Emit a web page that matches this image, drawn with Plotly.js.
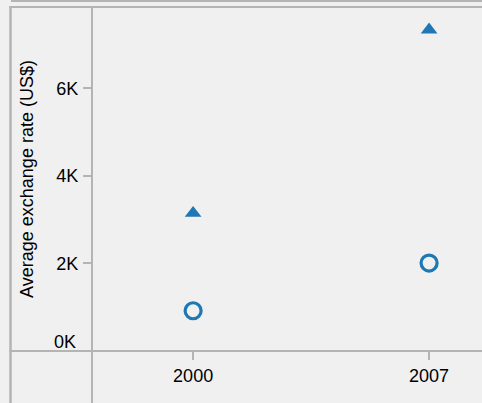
<!DOCTYPE html>
<html>
<head>
<meta charset="utf-8">
<script src="https://cdn.plot.ly/plotly-3.0.1.min.js"></script>
<style>
  html, body { margin: 0; padding: 0; background: #f0f0f0; }
  #chart { width: 482px; height: 403px; }
</style>
</head>
<body>
<div id="chart"></div>
<script>
// ---- data ----
const years = [2000, 2007];
const seriesTriangle = [3150, 7340];
const seriesCircle = [920, 2010];
const yTickVals = [0, 2000, 4000, 6000];
const yTickText = ['0K', '2K', '4K', '6K'];
const xTickVals = [2000, 2007];
const xTickText = ['2000', '2007'];
const yTitle = 'Average exchange rate (US$)';

// ---- layout helpers (pixel -> paper) ----
const W = 482, H = 403;
const L = 92, T = 7, B = 52, R = 0;
const pw = W - L - R, ph = H - T - B;
const px = x => (x - L) / pw;
const py = y => (H - B - y) / ph;
const lineColor = '#b4b4b4';
const blue = '#1f77b4';
const font = 'Arial, "Liberation Sans", sans-serif';

function seg(x0, y0, x1, y1, w) {
  return {type: 'line', xref: 'paper', yref: 'paper',
    x0: px(x0), y0: py(y0), x1: px(x1), y1: py(y1),
    line: {color: lineColor, width: w}, layer: 'below'};
}

const traces = [
  {x: years, y: seriesTriangle, type: 'scatter', mode: 'markers',
   marker: {symbol: 'triangle-up', size: 14.5, color: blue}, hoverinfo: 'skip'},
  {x: years, y: seriesCircle, type: 'scatter', mode: 'markers',
   marker: {symbol: 'circle-open', size: 16, color: blue, line: {color: blue, width: 3.2}}, hoverinfo: 'skip'}
];

const layout = {
  width: W, height: H,
  margin: {l: L, r: R, t: T, b: B, pad: 0},
  paper_bgcolor: '#f0f0f0', plot_bgcolor: '#f0f0f0',
  showlegend: false,
  font: {family: font, size: 18, color: '#000'},
  xaxis: {
    range: [1997.0, 2008.57], showgrid: false, zeroline: false, showline: false,
    tickvals: xTickVals, ticktext: xTickText,
    ticks: 'outside', ticklen: 8, tickwidth: 2, tickcolor: lineColor,
    ticklabelstandoff: 0,
    tickfont: {family: font, size: 18, color: '#000'}
  },
  yaxis: {
    range: [0, 7860], showgrid: false, zeroline: false, showline: false,
    tickvals: yTickVals.slice(1), ticktext: yTickText.slice(1),
    ticks: 'outside', ticklen: 8, tickwidth: 2, tickcolor: lineColor,
    ticklabelstandoff: 1,
    tickfont: {family: font, size: 18, color: '#000'},
    title: {text: yTitle, font: {family: font, size: 18, color: '#000'}, standoff: 18}
  },
  annotations: [
    {xref: 'paper', yref: 'y', x: px(78), y: yTickVals[0], xanchor: 'right', yanchor: 'middle',
     yshift: 9, text: yTickText[0], showarrow: false,
     font: {family: font, size: 18, color: '#000'}}
  ],
  shapes: [
    seg(11, 1, W, 1, 2),
    seg(9.5, 7, W, 7, 2),
    seg(10.5, 6, 10.5, H, 2.5),
    seg(92, 6, 92, H, 2),
    seg(9.5, 351, W, 351, 2)
  ]
};

Plotly.newPlot('chart', traces, layout, {staticPlot: true, displayModeBar: false});
</script>
</body>
</html>
